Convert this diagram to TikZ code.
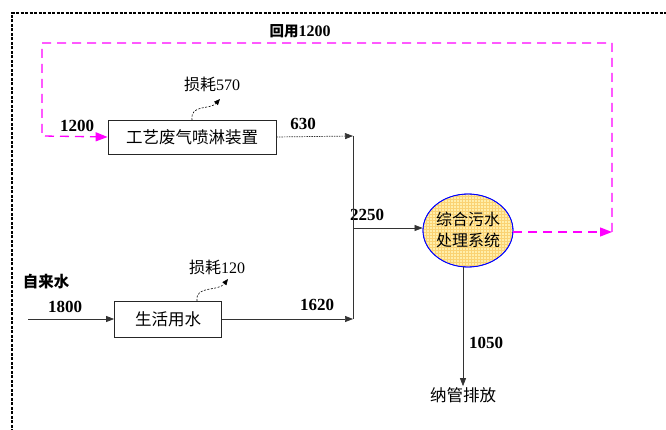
\documentclass[tikz,border=0pt]{standalone}
\usepackage{fontspec}
\setmainfont{Liberation Serif}
\newfontfamily\cjk{Noto Sans CJK SC}
\usetikzlibrary{arrows.meta,patterns,shapes.geometric}
\definecolor{mag}{RGB}{255,0,255}
\definecolor{ellfill}{RGB}{255,238,170}
\definecolor{gridc}{RGB}{250,210,115}
\begin{document}
\begin{tikzpicture}[x=1pt,y=-1pt,
  procbox/.style={draw=black!85,line width=0.8pt,minimum width=#1,minimum height=34pt,inner sep=0pt,font=\cjk\fontsize{16.5}{18}\selectfont},
  numlbl/.style={font=\bfseries\fontsize{17}{19}\selectfont,inner sep=1pt},
  cjklbl/.style={font=\cjk\fontsize{16}{18}\selectfont,inner sep=1pt},
  flow/.style={line width=0.7pt,draw=black!80,-{Triangle[length=8pt,width=6pt]}},
  recyc/.style={line width=1.3pt,draw=mag,dash pattern=on 9pt off 6pt,-{Triangle[length=12pt,width=9pt,fill=mag]}},
  lossarr/.style={line width=0.6pt,dash pattern=on 2pt off 1.5pt,-{Triangle[length=6pt,width=5pt]}}
]
\useasboundingbox (0,0) rectangle (666,430);
% outer dashed frame
\draw[line width=1.3pt,dash pattern=on 3pt off 1.5pt] (12,432) -- (12,13) -- (668,13);

% nodes
\node[procbox=168pt] (b1) at (192,137) {工艺废气喷淋装置};
\node[procbox=107pt,minimum height=36pt] (b2) at (168,319) {生活用水};
\node[ellipse,draw=blue,line width=0.8pt,fill=ellfill,minimum width=90pt,minimum height=73pt,inner sep=0pt] (el) at (468,230.5) {};
\fill[pattern=grid,pattern color=gridc] (468,230.5) ellipse [x radius=44.5pt,y radius=36pt];
\draw[blue,line width=0.8pt] (468,230.5) ellipse [x radius=45pt,y radius=36.5pt];
\node[align=center,font=\cjk\fontsize{16}{21}\selectfont] (eltxt) at (468,229.5) {综合污水\\处理系统};
\node[cjklbl,font=\cjk\fontsize{16.5}{18}\selectfont] (out) at (463,395) {纳管排放};

% coordinates
\coordinate (src) at (28,319);
\coordinate (j1) at (353,136);
\coordinate (j2) at (353,319);
\coordinate (jm) at (353,228);
\coordinate (r1) at (612,232);
\coordinate (r2) at (612,43);
\coordinate (r3) at (42,43);
\coordinate (r4) at (42,136);
\coordinate (l1a) at (192,120);
\coordinate (l1b) at (220,99);
\coordinate (l2a) at (197,301);
\coordinate (l2b) at (228,279);

% labels
\node[cjklbl,font=\cjk\bfseries\fontsize{14.5}{16}\selectfont] (lh) at (300,31) {回用{\bfseries\fontspec{Liberation Serif}\fontsize{16}{17}\selectfont 1200}};
\node[numlbl] (n1200) at (77,126) {1200};
\node[numlbl] (n630) at (303,124) {630};
\node[numlbl] (n2250) at (367,215) {2250};
\node[numlbl] (n1620) at (317,305) {1620};
\node[numlbl] (n1800) at (65,307) {1800};
\node[cjklbl,font=\cjk\bfseries\fontsize{15.5}{17}\selectfont] (zls) at (46,282) {自来水};
\node[numlbl] (n1050) at (486,343) {1050};
\node[cjklbl] (ls1) at (212,84) {损耗\fontspec{Liberation Serif}570};
\node[cjklbl] (ls2) at (217,267) {损耗\fontspec{Liberation Serif}120};

% connectors
\draw[flow] (src) -- (b2.west);
\draw[line width=0.7pt,draw=black!80,dash pattern=on 1.5pt off 1pt,-{Triangle[length=8pt,width=6pt]}] (b1.east) -- (j1);
\draw[flow] (b2.east) -- (j2);
\draw[line width=0.7pt,draw=black!80] (j1) -- (j2);
\draw[flow] (jm) -- (jm -| el.west);
\draw[flow] (463,267) -- (out.north);
\draw[recyc] (el.east |- r1) -- (r1);
\draw[recyc] (r1) -- (r2) -- (r3) -- (r4) -- (b1.west);
\draw[lossarr] (l1a) .. controls (190,104) and (210,110) .. (l1b);
\draw[lossarr] (l2a) .. controls (195,285) and (218,292) .. (l2b);
\end{tikzpicture}
\end{document}
